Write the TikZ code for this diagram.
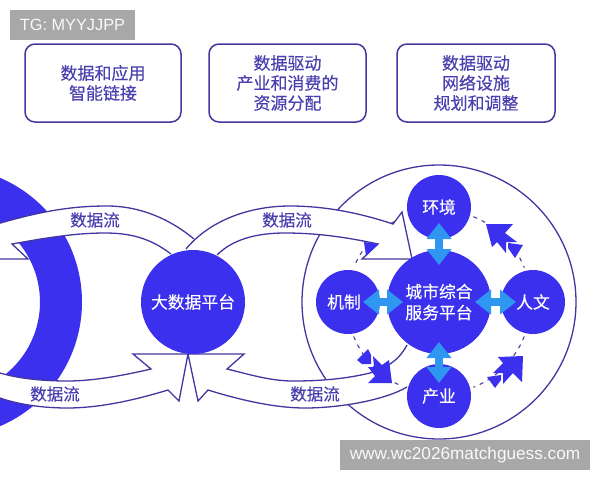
\documentclass[tikz,border=0pt]{standalone}
\usepackage{fontspec}
\setmainfont{Liberation Sans}
\newfontfamily\cjk[FakeBold=0.3]{Noto Sans CJK SC}
\usetikzlibrary{arrows.meta}
\definecolor{ringblue}{HTML}{3A30EE}
\definecolor{edgeblue}{HTML}{43369F}
\definecolor{textblue}{HTML}{4A3FAE}
\definecolor{skyblue}{HTML}{2F96F2}
\definecolor{tagback}{HTML}{A8A8A8}
\tikzset{
  bandline/.style={edgeblue,line width=1.3pt,line join=miter},
  infobox/.style={draw=edgeblue,line width=1.5pt,rounded corners=10pt,minimum height=78pt,align=center,text=textblue,font=\cjk\fontsize{17}{20}\selectfont},
  flowlabel/.style={text=textblue,font=\cjk\fontsize{16.5}{20}\selectfont},
  hub/.style={circle,fill=ringblue,minimum size=104pt,inner sep=0pt,align=center,text=white,font=\cjk\fontsize{16.8}{21}\selectfont},
  sat/.style={circle,fill=ringblue,minimum size=64pt,inner sep=0pt,text=white,font=\cjk\fontsize{16.8}{21}\selectfont},
  dblarrow/.style={skyblue,line width=8pt,{Triangle[length=16pt,width=24pt]}-{Triangle[length=16pt,width=24pt]}},
  dashflow/.style={edgeblue!85!gray,line width=1.1pt,dash pattern=on 4pt off 5pt},
  tagbox/.style={fill=tagback,text=white!95!gray,inner sep=0pt,minimum height=30pt}
}
% band outlines, open at the ends
\def\bandtopleft{(171,254) .. controls (150,238) and (130,233) .. (105,233) .. controls (75,233) and (45,238) .. (12,244) -- (28,259) -- (-3,259) -- (-3,224) .. controls (45,210) and (75,206) .. (107,206) .. controls (140,206) and (170,219) .. (194,239)}
\def\bandtopright{(186,249) .. controls (210,220) and (250,206) .. (290,206) .. controls (325,206) and (360,213) .. (393,224) -- (402,212) -- (412,259) -- (362,259) -- (378,244) .. controls (350,238) and (320,233) .. (285,233) .. controls (255,233) and (232,240) .. (217,255)}
\def\bandlowleft{(0,373) .. controls (20,379) and (45,381) .. (67,381) .. controls (95,381) and (125,375) .. (151,369) -- (133,354) -- (188,354) -- (179,401) -- (168,390) .. controls (135,400) and (100,408) .. (67,408) .. controls (45,408) and (20,405) .. (0,398)}
\def\bandlowright{(407,345) .. controls (398,362) and (385,368) .. (370,373) .. controls (345,379) and (320,381) .. (293,381) .. controls (270,381) and (248,374) .. (227,369) -- (244,354) -- (188,354) -- (198,401) -- (208,390) .. controls (240,400) and (275,408) .. (305,408) .. controls (340,408) and (385,400) .. (407,387)}
\begin{document}
\begin{tikzpicture}[x=1pt,y=-1pt]
\clip (0,0) rectangle (600,480);
%ring and outer circle
\fill[ringblue,even odd rule] (-53,302) circle (135) (-53,302) circle (93);
\draw[edgeblue,line width=1.3pt] (439,302) circle (137);
%dashed ring, upper left part goes under the band
\draw[dashflow] (439,302)++(-113:92) arc (-113:-157:92);
\draw[dashflow] (439,302)++(-68:92) arc (-68:-22:92);
\draw[dashflow] (439,302)++(22:92) arc (22:68:92);
%bands
\fill[white] \bandtopleft;
\draw[bandline] \bandtopleft;
\fill[white] \bandtopright;
\draw[bandline] \bandtopright;
\fill[white] \bandlowleft;
\draw[bandline] \bandlowleft;
\fill[white] \bandlowright;
\draw[bandline] \bandlowright;
\draw[dashflow] (439,302)++(158:92) arc (158:116:92);
%
\node[flowlabel] (flowa) at (95,220) {数据流};
\node[flowlabel] (flowb) at (287,220) {数据流};
\node[flowlabel] (flowc) at (55,394) {数据流};
\node[flowlabel] (flowd) at (315,394) {数据流};
%circles
\node[hub] (bigdata) at (193,302) {大数据平台};
\node[hub] (city) at (439,302) {城市综合\\服务平台};
\node[sat] (env) at (439,207) {环境};
\node[sat] (mech) at (348,302) {\hspace*{-8pt}机制};
\node[sat] (human) at (533,302) {人文};
\node[sat] (indus) at (439,396) {\raisebox{-2pt}{产业}};
%blue arrows
\draw[dblarrow,shorten <=16pt,shorten >=37pt] (env.center) -- (city.center);
\draw[dblarrow,shorten <=40pt,shorten >=13pt] (city.center) -- (indus.center);
\draw[dblarrow,shorten <=15pt,shorten >=36pt] (mech.center) -- (city.center);
\draw[dblarrow,shorten <=36pt,shorten >=17pt] (city.center) -- (human.center);
%fat arrows on the dashed ring
\fill[ringblue] (486,224)--(513,224)--(505,233)--(517,242)--(506,242)--(506,253)--(497,242)--(492,247)--cycle;
\fill[ringblue] (508,243)--(523,245)--(515,258)--(508,248)--cycle;
\fill[ringblue] (523,356)--(498,357)--(503,363)--(493,373)--(503,373)--(503,384)--(513,373)--(522,382)--cycle;
\fill[ringblue] (487,377)--(501,375)--(501,380)--(495,388)--cycle;
\fill[ringblue] (373,356)--(382,365)--(389,360)--(392,383)--(368,383)--(375,376)--(368,367)--(374,367)--cycle;
\fill[ringblue] (368,349)--(357,360)--(362,364)--(371,364)--(371,355)--cycle;
\fill[ringblue] (364,242)--(378,244)--(366,256)--cycle;
%boxes
\node[infobox,minimum width=156pt] (boxa) at (103,83) {数据和应用\\智能链接};
\node[infobox,minimum width=157pt] (boxb) at (287.5,83) {数据驱动\\产业和消费的\\资源分配};
\node[infobox,minimum width=158pt] (boxc) at (476,83) {数据驱动\\网络设施\\规划和调整};
%tags
\node[tagbox,minimum width=125pt,font=\fontsize{16.3}{18}\selectfont] (tg) at (72.5,25) {TG: MYYJJPP};
\node[tagbox,minimum width=250pt,font=\fontsize{17.2}{20}\selectfont] (site) at (465,455) {www.wc2026matchguess.com};
\end{tikzpicture}
\end{document}
